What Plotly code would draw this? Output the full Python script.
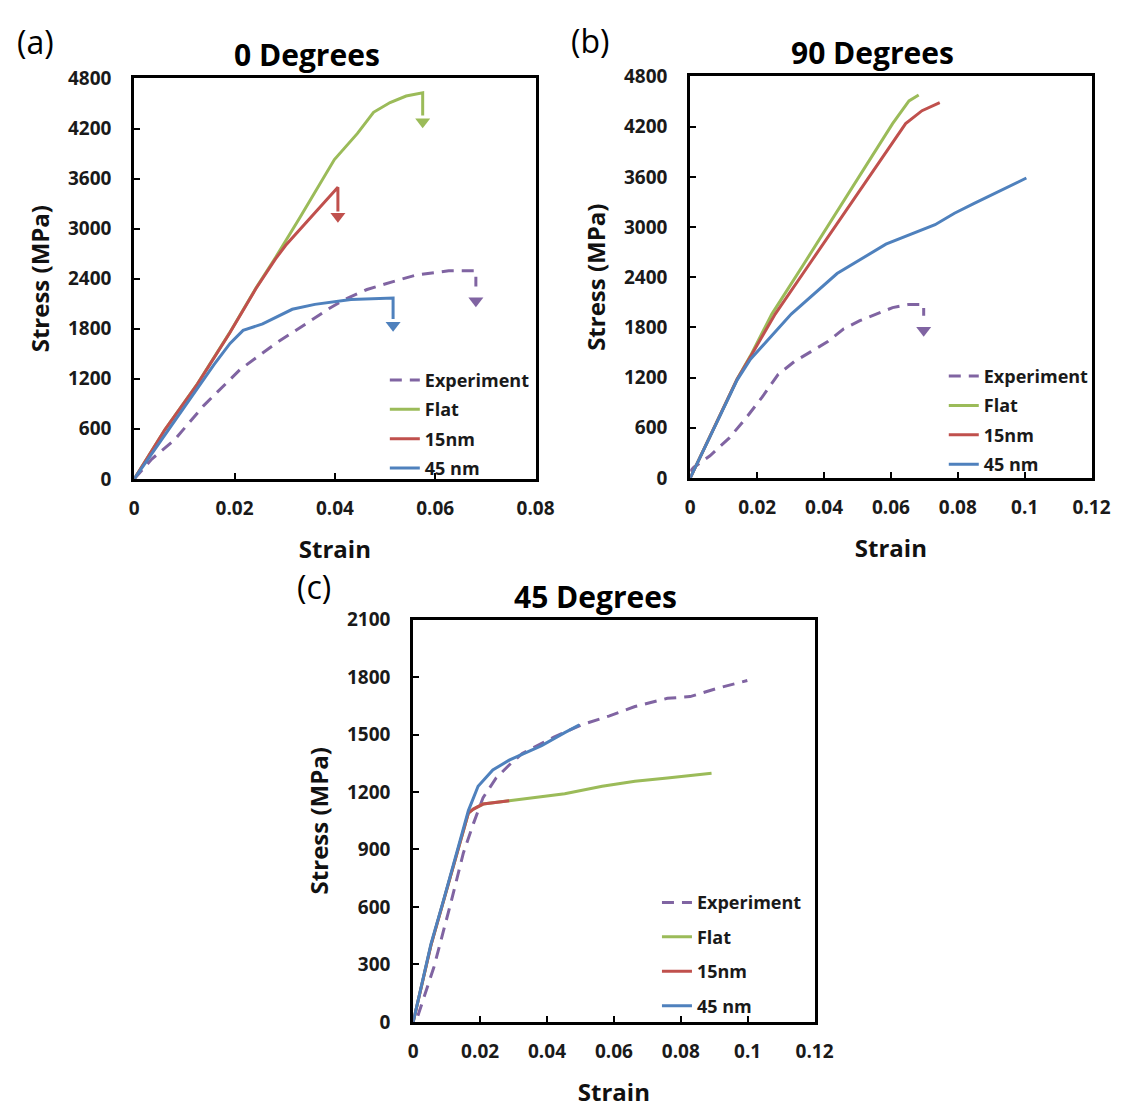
import plotly.graph_objects as go

# ---------------- data: (a) 0 Degrees ----------------
a_exp_x = [0, 0.0035, 0.0081, 0.0139, 0.0211, 0.0282, 0.0347, 0.0386, 0.0419, 0.0464, 0.0516, 0.0562, 0.0627, 0.0681, 0.0681]
a_exp_y = [0, 238, 472, 882, 1311, 1624, 1877, 2033, 2150, 2270, 2365, 2443, 2494, 2494, 2306]
a_flat_x = [0, 0.0061, 0.0126, 0.0190, 0.0243, 0.0282, 0.0330, 0.0399, 0.0445, 0.0477, 0.0510, 0.0542, 0.0575, 0.0575]
a_flat_y = [0, 589, 1140, 1750, 2290, 2657, 3130, 3828, 4141, 4394, 4511, 4589, 4628, 4355]
a_15_x = [0, 0.0061, 0.0126, 0.0190, 0.0243, 0.0282, 0.0302, 0.0367, 0.0393, 0.0406, 0.0406]
a_15_y = [0, 589, 1136, 1745, 2285, 2640, 2800, 3243, 3418, 3497, 3204]
a_45_x = [0, 0.0061, 0.0126, 0.0159, 0.0191, 0.0217, 0.0256, 0.0315, 0.0360, 0.0432, 0.0516, 0.0516]
a_45_y = [0, 531, 1097, 1370, 1624, 1780, 1858, 2033, 2092, 2150, 2169, 1916]
a_head_x = [0.0681, 0.0575, 0.0406, 0.0516]
a_head_y = [2134, 4281, 3149, 1841]

# ---------------- data: (b) 90 Degrees ----------------
b_exp_x = [0, 0.0011, 0.0059, 0.0117, 0.0166, 0.0215, 0.0263, 0.0312, 0.0361, 0.0410, 0.0459, 0.0507, 0.0556, 0.0605, 0.0654, 0.0698, 0.0698]
b_exp_y = [80, 128, 264, 479, 712, 966, 1238, 1394, 1510, 1627, 1783, 1880, 1958, 2036, 2075, 2075, 1939]
b_flat_x = [0, 0.005, 0.010, 0.014, 0.0180, 0.0244, 0.0342, 0.0439, 0.0537, 0.0605, 0.0654, 0.0683]
b_flat_y = [0, 420, 850, 1180, 1460, 1959, 2573, 3188, 3804, 4236, 4508, 4578]
b_15_x = [0, 0.005, 0.010, 0.014, 0.0180, 0.0254, 0.0356, 0.0468, 0.0566, 0.0644, 0.0693, 0.0746]
b_15_y = [0, 420, 850, 1180, 1450, 1959, 2555, 3209, 3781, 4236, 4391, 4488]
b_45_x = [0, 0.005, 0.010, 0.014, 0.0180, 0.0302, 0.0439, 0.0585, 0.0732, 0.0790, 0.0849, 0.0946, 0.1005]
b_45_y = [0, 420, 850, 1170, 1420, 1959, 2444, 2795, 3028, 3165, 3282, 3477, 3586]
b_head_x = [0.0698]
b_head_y = [1767]

# ---------------- data: (c) 45 Degrees ----------------
c_exp_x = [0.0014, 0.0062, 0.0111, 0.0150, 0.0180, 0.0209, 0.0248, 0.0287, 0.0326, 0.0419, 0.0507, 0.0585, 0.0663, 0.0760, 0.0828, 0.0907, 0.0999]
c_exp_y = [32, 287, 611, 882, 1035, 1171, 1273, 1341, 1401, 1485, 1553, 1596, 1646, 1689, 1698, 1740, 1782]
c_flat_x = [0, 0.0053, 0.0092, 0.0131, 0.0165, 0.0180, 0.0209, 0.0287, 0.0370, 0.0453, 0.0565, 0.0663, 0.0760, 0.0892]
c_flat_y = [0, 400, 640, 876, 1090, 1111, 1137, 1154, 1172, 1191, 1230, 1256, 1273, 1298]
c_15_x = [0, 0.0053, 0.0092, 0.0131, 0.0165, 0.0180, 0.0209, 0.0287]
c_15_y = [0, 400, 640, 876, 1090, 1111, 1137, 1154]
c_45_x = [0, 0.0053, 0.0092, 0.0131, 0.0165, 0.0194, 0.0238, 0.0287, 0.0384, 0.0453, 0.0497]
c_45_y = [0, 406, 644, 882, 1103, 1230, 1315, 1366, 1442, 1510, 1550]

names = ["Experiment", "Flat", "15nm", "45 nm"]
colors = ["#8064A2", "#9BBB59", "#C0504D", "#4F81BD"]
head_colors_a = ["#8064A2", "#9BBB59", "#C0504D", "#4F81BD"]

W, H = 1138, 1117
FONT = "Open Sans"

def fx(p):
    return p / W

def fy(p):
    return 1 - p / H

fig = go.Figure()

panels = [
    ("x", "y", "legend", [(a_exp_x, a_exp_y), (a_flat_x, a_flat_y), (a_15_x, a_15_y), (a_45_x, a_45_y)],
     a_head_x, a_head_y, head_colors_a),
    ("x2", "y2", "legend2", [(b_exp_x, b_exp_y), (b_flat_x, b_flat_y), (b_15_x, b_15_y), (b_45_x, b_45_y)],
     b_head_x, b_head_y, ["#8064A2"]),
    ("x3", "y3", "legend3", [(c_exp_x, c_exp_y), (c_flat_x, c_flat_y), (c_15_x, c_15_y), (c_45_x, c_45_y)],
     [], [], []),
]

for xa, ya, lg, series, hx, hy, hc in panels:
    for i, (sx, sy) in enumerate(series):
        fig.add_trace(go.Scatter(
            x=sx, y=sy, mode="lines", name=names[i],
            line=dict(color=colors[i], width=3, dash="12px,8px" if i == 0 else "solid"),
            xaxis=xa, yaxis=ya, legend=lg, legendgroup=lg + names[i],
        ))
    if hx:
        fig.add_trace(go.Scatter(
            x=hx, y=hy, mode="markers", showlegend=False,
            marker=dict(symbol="triangle-down", size=13, color=hc, line=dict(width=0)),
            xaxis=xa, yaxis=ya,
        ))

tickfont = dict(family=FONT, size=19, color="#1a1a1a", weight="bold")
titlefont = dict(family=FONT, size=24, color="#111111", weight="bold")

def xaxis(dom, rng, anchor):
    return dict(domain=dom, range=rng, dtick=0.02, tick0=0, anchor=anchor,
                showline=True, mirror=True, linecolor="black", linewidth=3,
                ticks="inside", ticklen=6, tickwidth=2, tickcolor="black",
                showgrid=False, zeroline=False, tickfont=tickfont,
                ticklabelstandoff=10,
                title=dict(text="Strain", font=titlefont, standoff=22))

def yaxis(dom, rng, dt, anchor):
    return dict(domain=dom, range=rng, dtick=dt, tick0=0, anchor=anchor,
                showline=True, mirror=True, linecolor="black", linewidth=3,
                ticks="inside", ticklen=6, tickwidth=2, tickcolor="black",
                showgrid=False, zeroline=False, tickfont=tickfont,
                ticklabelstandoff=16,
                title=dict(text="Stress (MPa)", font=titlefont, standoff=12))

legend_common = dict(font=dict(family=FONT, size=18, color="#1a1a1a", weight="bold"),
                     bgcolor="rgba(0,0,0,0)", borderwidth=0, xanchor="left", yanchor="top",
                     itemwidth=30)

fig.update_layout(
    width=W, height=H,
    margin=dict(l=0, r=0, t=0, b=0),
    paper_bgcolor="white", plot_bgcolor="white",
    xaxis=xaxis([fx(132), fx(542)], [0, 0.08], "y"),
    yaxis=yaxis([fy(477), fy(67)], [0, 4800], 600, "x"),
    xaxis2=xaxis([fx(700), fx(1110)], [0, 0.12], "y2"),
    yaxis2=yaxis([fy(476), fy(65)], [0, 4800], 600, "x2"),
    xaxis3=xaxis([fx(417), fx(827)], [0, 0.12], "y3"),
    yaxis3=yaxis([fy(1033), fy(621)], [0, 2100], 300, "x3"),
    legend=dict(x=fx(388), y=fy(357), tracegroupgap=3, **legend_common),
    legend2=dict(x=fx(959), y=fy(353), tracegroupgap=3, **legend_common),
    legend3=dict(x=fx(666), y=fy(892), tracegroupgap=8, **legend_common),
    showlegend=True,
)

ann = []
for text, x, y in [("0 Degrees", 308, 42), ("90 Degrees", 886, 40), ("45 Degrees", 603, 597)]:
    ann.append(dict(text=text, x=fx(x), y=fy(y), xref="paper", yref="paper",
                    xanchor="center", yanchor="middle", showarrow=False,
                    font=dict(family=FONT, size=30, color="black", weight="bold")))
for text, x, y in [("(a)", 31, 29), ("(b)", 598, 28), ("(c)", 316, 587)]:
    ann.append(dict(text=text, x=fx(x), y=fy(y), xref="paper", yref="paper",
                    xanchor="center", yanchor="middle", showarrow=False,
                    font=dict(family=FONT, size=32, color="black")))
fig.update_layout(annotations=ann)

fig.write_html("out.html", config={"displayModeBar": False},
               post_script="document.body.style.margin='0';")
